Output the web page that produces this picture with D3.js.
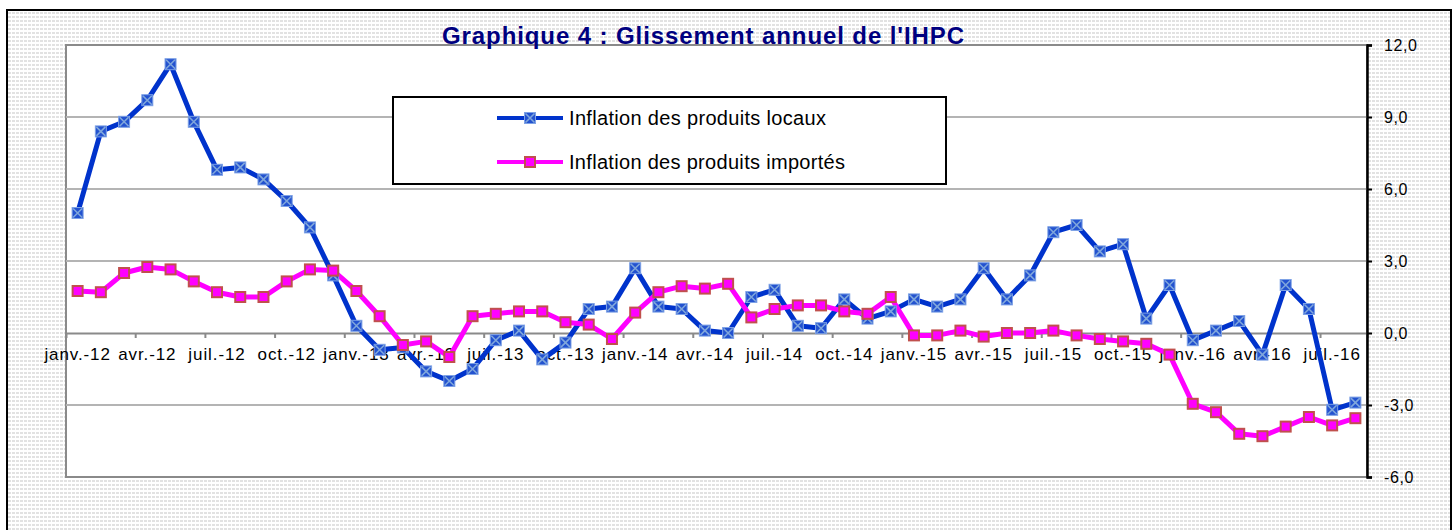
<!DOCTYPE html>
<html>
<head>
<meta charset="utf-8">
<script src="https://cdn.jsdelivr.net/npm/d3@7"></script>
<style>
  body { margin: 0; background: #fff; }
  text { font-family: "Liberation Sans", Arial, sans-serif; }
</style>
</head>
<body>
<script>
// mois et années de l'axe des abscisses
const mois = ["janv.", "févr.", "mars", "avr.", "mai", "juin", "juil.", "août", "sept.", "oct.", "nov.", "déc."];
const annees = ["12", "13", "14", "15", "16"];
const nbMois = 56;

// glissement annuel, produits locaux
const locaux = [5.0, 8.4, 8.8, 9.7, 11.2, 8.8, 6.8, 6.9, 6.4, 5.5, 4.4, 2.4,
  0.3, -0.7, -0.6, -1.6, -2.0, -1.5, -0.3, 0.1, -1.1, -0.4, 1.0, 1.1,
  2.7, 1.1, 1.0, 0.1, 0.0, 1.5, 1.8, 0.3, 0.2, 1.4, 0.6, 0.9,
  1.4, 1.1, 1.4, 2.7, 1.4, 2.4, 4.2, 4.5, 3.4, 3.7, 0.6, 2.0,
  -0.3, 0.1, 0.5, -0.9, 2.0, 1.0, -3.2, -2.9];

// glissement annuel, produits importés
const importes = [1.75, 1.7, 2.5, 2.75, 2.65, 2.15, 1.7, 1.5, 1.5, 2.15, 2.65, 2.6,
  1.75, 0.7, -0.5, -0.35, -1.0, 0.7, 0.8, 0.9, 0.9, 0.45, 0.35, -0.25,
  0.85, 1.7, 1.95, 1.85, 2.05, 0.65, 1.0, 1.15, 1.15, 0.9, 0.8, 1.5,
  -0.1, -0.1, 0.1, -0.15, 0.0, 0.0, 0.1, -0.1, -0.25, -0.35, -0.45, -0.9,
  -2.95, -3.3, -4.2, -4.3, -3.9, -3.5, -3.85, -3.55];

const yTicks = [-6, -3, 0, 3, 6, 9, 12];
const titre = "Graphique 4 : Glissement annuel de l'IHPC";
const series = [
  { nom: "Inflation des produits locaux", valeurs: locaux, couleur: "#0033cc", marque: "croix" },
  { nom: "Inflation des produits importés", valeurs: importes, couleur: "#ff00ff", marque: "carre" }
];

const categories = d3.range(nbMois).map(i => mois[i % 12] + "-" + annees[Math.floor(i / 12)]);

const WIDTH = 1455;
const HEIGHT = 530;
const plot = { left: 66, right: 1367, top: 45, bottom: 477 };

const svg = d3.select("body").append("svg")
  .attr("width", WIDTH)
  .attr("height", HEIGHT);

// motif pointillé du fond
const defs = svg.append("defs");
const motif = defs.append("pattern")
  .attr("id", "trame")
  .attr("width", 4).attr("height", 4)
  .attr("patternUnits", "userSpaceOnUse");
motif.append("rect").attr("width", 4).attr("height", 4).attr("fill", "#ffffff");
motif.append("rect").attr("width", 3).attr("height", 2).attr("fill", "#e2e2e2");

svg.append("rect")
  .attr("x", 7).attr("y", 10)
  .attr("width", 1444).attr("height", 540)
  .attr("fill", "url(#trame)")
  .attr("stroke", "#000").attr("stroke-width", 2);

// zone de tracé
svg.append("rect")
  .attr("x", plot.left).attr("y", plot.top)
  .attr("width", plot.right - plot.left).attr("height", plot.bottom - plot.top)
  .attr("fill", "#fff")
  .attr("stroke", "#8a8a8a").attr("stroke-width", 2);

const x = d3.scaleBand()
  .domain(categories)
  .range([plot.left, plot.right])
  .padding(0);

const y = d3.scaleLinear()
  .domain([-6, 12])
  .range([plot.bottom, plot.top]);

// quadrillage
svg.append("g")
  .selectAll("line")
  .data(yTicks.filter(d => d !== 0 && d !== 12 && d !== -6))
  .join("line")
  .attr("x1", plot.left).attr("x2", plot.right)
  .attr("y1", d => y(d)).attr("y2", d => y(d))
  .attr("stroke", "#b4b4b4").attr("stroke-width", 2);

// axe des abscisses (sur la ligne zéro)
const bw = x.bandwidth();
const axeX = d3.axisBottom(x)
  .tickValues(categories.filter((_, i) => i % 3 === 0))
  .tickSize(5)
  .tickPadding(10);

const gx = svg.append("g")
  .attr("transform", `translate(0, ${y(0)})`)
  .attr("font-size", 17)
  .attr("font-family", null)
  .call(axeX);
gx.select(".domain").attr("stroke", "#8a8a8a").attr("stroke-width", 2);
gx.selectAll(".tick line")
  .attr("x1", -bw / 2).attr("x2", -bw / 2)
  .attr("stroke", "#8a8a8a").attr("stroke-width", 2);
gx.selectAll(".tick text")
  .attr("fill", "#000")
  .style("font-size", "17px")
  .style("letter-spacing", "0.9px");

// axe des ordonnées à droite
const axeY = d3.axisRight(y)
  .tickValues(yTicks)
  .tickSize(5)
  .tickPadding(12)
  .tickFormat(d => d3.format(".1f")(d).replace(".", ",").replace("−", "-"));

const gy = svg.append("g")
  .attr("transform", `translate(${plot.right}, 0)`)
  .call(axeY);
gy.attr("font-size", 16).attr("font-family", null);
gy.select(".domain").attr("stroke", "#000").attr("stroke-width", 2.5);
gy.selectAll(".tick line").attr("stroke", "#000").attr("stroke-width", 2);
gy.selectAll(".tick text")
  .attr("fill", "#000")
  .style("font-size", "16px")
  .style("letter-spacing", "0.6px");

// marqueurs
function marqueur(g, type) {
  if (type === "croix") {
    g.append("rect")
      .attr("x", -5.5).attr("y", -5.5).attr("width", 11).attr("height", 11)
      .attr("fill", "#2352cf").attr("stroke", "#7ea2e6").attr("stroke-width", 1);
    g.append("path")
      .attr("d", "M-4.5,-4.5L4.5,4.5M-4.5,4.5L4.5,-4.5")
      .attr("stroke", "#7fa6dc").attr("stroke-width", 1.6);
  } else {
    g.append("rect")
      .attr("x", -5).attr("y", -5).attr("width", 10).attr("height", 10)
      .attr("fill", "#ff00ff").attr("stroke", "#c0504d").attr("stroke-width", 2);
  }
}

const ligne = d3.line()
  .x((d, i) => x(categories[i]) + bw / 2)
  .y(d => y(d));

series.forEach(s => {
  svg.append("path")
    .datum(s.valeurs)
    .attr("fill", "none")
    .attr("stroke", s.couleur)
    .attr("stroke-width", 5)
    .attr("stroke-linejoin", "round")
    .attr("d", ligne);
});

series.forEach(s => {
  svg.append("g")
    .selectAll("g")
    .data(s.valeurs)
    .join("g")
    .attr("transform", (d, i) => `translate(${x(categories[i]) + bw / 2}, ${y(d)})`)
    .each(function () { marqueur(d3.select(this), s.marque); });
});

// titre
svg.append("text")
  .attr("x", 703).attr("y", 44)
  .attr("text-anchor", "middle")
  .attr("textLength", 522)
  .attr("lengthAdjust", "spacing")
  .attr("fill", "#000080")
  .style("font-size", "24px")
  .style("font-weight", "bold")
  .text(titre);

// légende
const legende = svg.append("g");
legende.append("rect")
  .attr("x", 393).attr("y", 97)
  .attr("width", 553).attr("height", 87)
  .attr("fill", "#fff")
  .attr("stroke", "#000").attr("stroke-width", 2);

const largeurs = [257, 276];
series.forEach((s, i) => {
  const ly = 118 + i * 44;
  legende.append("line")
    .attr("x1", 497).attr("x2", 563)
    .attr("y1", ly).attr("y2", ly)
    .attr("stroke", s.couleur).attr("stroke-width", 4);
  marqueur(legende.append("g").attr("transform", `translate(530, ${ly})`), s.marque);
  legende.append("text")
    .attr("x", 569).attr("y", ly + 7)
    .attr("textLength", largeurs[i])
    .attr("lengthAdjust", "spacing")
    .attr("fill", "#000")
    .style("font-size", "20px")
    .text(s.nom);
});
</script>
</body>
</html>
